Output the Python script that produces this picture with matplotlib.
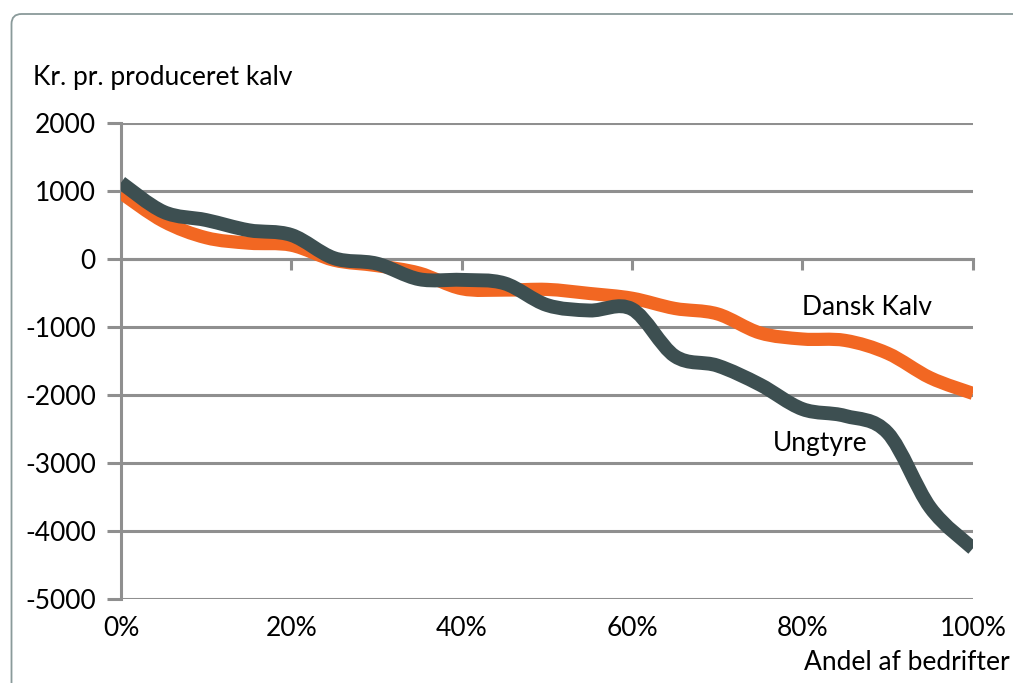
import matplotlib
matplotlib.use('Agg')
import matplotlib.pyplot as plt
from matplotlib.path import Path
from matplotlib.patches import PathPatch, FancyBboxPatch
from matplotlib.transforms import IdentityTransform
import numpy as np

# andel af bedrifter (%) og kr. pr. produceret kalv
andel = [0, 5, 10, 15, 20, 25, 30, 35, 40, 45, 50, 55, 60, 65, 70, 75, 80, 85, 90, 95, 100]
dansk_kalv = [980, 560, 320, 240, 210, -10, -90, -200, -430, -450, -440, -500, -570,
              -720, -800, -1080, -1170, -1190, -1380, -1740, -1970]
ungtyre = [1130, 700, 580, 430, 360, 20, -60, -290, -300, -350, -670, -750, -730,
           -1420, -1560, -1840, -2200, -2300, -2550, -3650, -4250]
x_ticks = [0, 20, 40, 60, 80, 100]
x_labels = ['0%', '20%', '40%', '60%', '80%', '100%']
y_ticks = [2000, 1000, 0, -1000, -2000, -3000, -4000, -5000]

ORANGE = '#F26722'
DARK = '#3D4F51'
GRID = '#8F8F8F'
plt.rcParams['font.family'] = ['Lato', 'DejaVu Sans']


def smooth_path(x, y):
    # excel-style smoothed line: bezier segments with catmull-rom control points
    p = np.column_stack([x, y]).astype(float)
    verts = [p[0]]
    codes = [Path.MOVETO]
    n = len(p)
    for i in range(n - 1):
        p0 = p[i - 1] if i > 0 else p[i]
        p3 = p[i + 2] if i + 2 < n else p[i + 1]
        c1 = p[i] + (p[i + 1] - p0) / 6
        c2 = p[i + 1] - (p3 - p[i]) / 6
        verts += [c1, c2, p[i + 1]]
        codes += [Path.CURVE4] * 3
    return Path(verts, codes)


fig = plt.figure(figsize=(10.13, 6.83), dpi=100)
ax = fig.add_axes([0.1194, 0.1223, 0.841, 0.6969])

frame = FancyBboxPatch((11.5, -30), 1060, 683 - 14 + 30, boxstyle='round,pad=0,rounding_size=10',
                       transform=IdentityTransform(), fill=False, edgecolor='#8A9A9A',
                       linewidth=1.3, zorder=0)
fig.patches.append(frame)

ax.add_patch(PathPatch(smooth_path(andel, dansk_kalv), fill=False, edgecolor=ORANGE,
                       linewidth=9.5, capstyle='butt', joinstyle='round', zorder=3))
ax.add_patch(PathPatch(smooth_path(andel, ungtyre), fill=False, edgecolor=DARK,
                       linewidth=10, capstyle='butt', joinstyle='round', zorder=4))

ax.set_xlim(0, 100)
ax.set_ylim(-5000, 2000)
ax.set_yticks(y_ticks)
ax.set_yticklabels([str(v) for v in y_ticks])
ax.yaxis.grid(True, color=GRID, linewidth=2.2)
ax.set_axisbelow(True)
ax.tick_params(axis='y', length=10, width=2.2, color=GRID, pad=8, labelsize=19)

for s in ['top', 'right', 'bottom']:
    ax.spines[s].set_visible(False)
ax.spines['left'].set_color(GRID)
ax.spines['left'].set_linewidth(2.2)

# labels at the bottom, tick marks on the zero line
ax.set_xticks(x_ticks)
ax.set_xticklabels(x_labels)
ax.tick_params(axis='x', length=0, pad=12, labelsize=19)

zero = ax.secondary_xaxis(5 / 7)
zero.set_xticks(x_ticks[1:])
zero.set_xticklabels([''] * 5)
zero.xaxis.set_ticks_position('bottom')
zero.tick_params(axis='x', direction='out', length=8, width=2.2, color=GRID,
                 labelbottom=False, labeltop=False)
for s in ['bottom', 'top']:
    zero.spines[s].set_color(GRID)
    zero.spines[s].set_linewidth(2.2)

ax.text(80, -700, 'Dansk Kalv', fontsize=19, va='center', ha='left')
ax.text(76.5, -2700, 'Ungtyre', fontsize=19, va='center', ha='left')

fig.text(33 / 1013, 1 - 78 / 683, 'Kr. pr. produceret kalv', fontsize=19, va='center', ha='left')
fig.text(1010 / 1013, 1 - 662 / 683, 'Andel af bedrifter', fontsize=19, va='center', ha='right')

fig.savefig('out.png', dpi=100)
